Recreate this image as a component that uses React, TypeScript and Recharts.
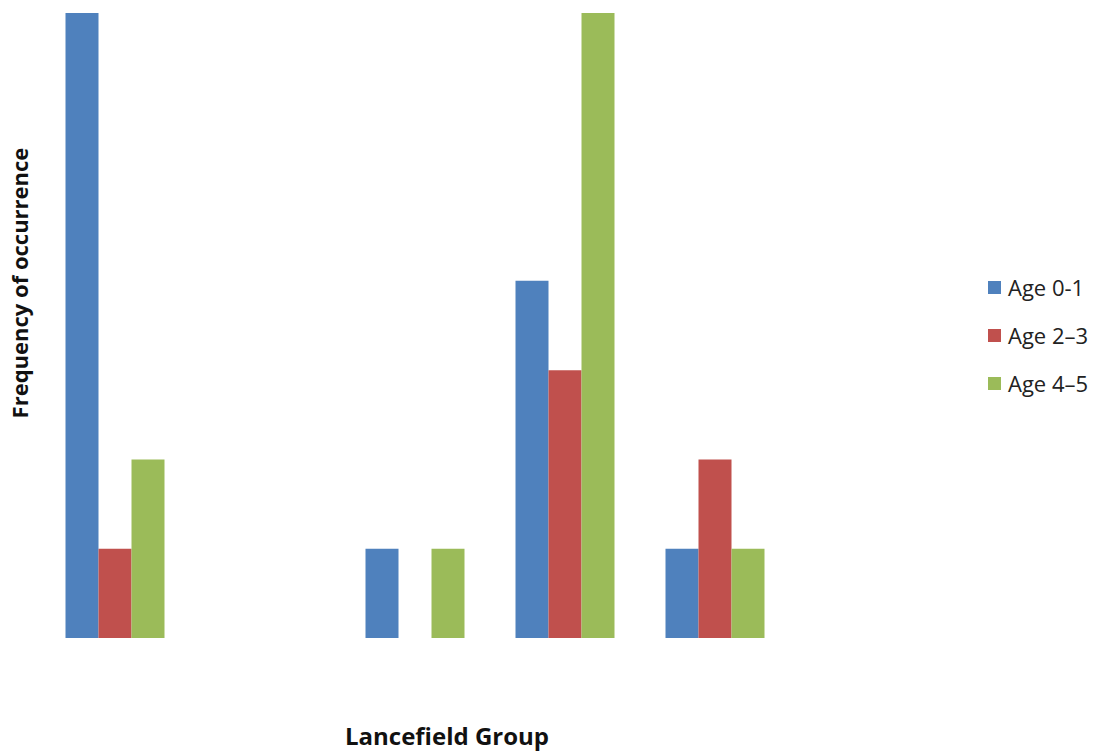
import React from 'react';
import { BarChart, Bar, XAxis, YAxis } from 'recharts';

// Lancefield groups on the category axis (tick labels are not shown)
const groups = ['A', 'B', 'C', 'F', 'G'];
const age01 = [7, 0, 1, 4, 1];
const age23 = [1, 0, 0, 3, 2];
const age45 = [2, 0, 1, 7, 1];

const seriesNames = ['Age 0-1', 'Age 2\u20133', 'Age 4\u20135'];
const seriesColors = ['#4f81bd', '#c0504d', '#9bbb59'];

const data = groups.map((g, i) => ({
  group: g,
  a01: age01[i],
  a23: age23[i],
  a45: age45[i],
}));

const FONT = '"Open Sans", "Liberation Sans", sans-serif';

function LegendBox() {
  return (
    <div
      style={{
        position: 'absolute',
        left: 988,
        top: 263,
        fontFamily: FONT,
        fontSize: 22,
        color: '#222',
      }}
    >
      {seriesNames.map((name, i) => (
        <div key={name} style={{ display: 'flex', alignItems: 'center', height: 48 }}>
          <span
            style={{
              display: 'inline-block',
              width: 13,
              height: 13,
              background: seriesColors[i],
              marginRight: 7,
            }}
          />
          <span>{name}</span>
        </div>
      ))}
    </div>
  );
}

export default function App() {
  return (
    <div style={{ position: 'absolute', left: 0, top: 0, width: 1102, height: 751, background: '#fff' }}>
      <BarChart
        width={1102}
        height={751}
        data={data}
        margin={{ top: 13, right: 312, bottom: 0, left: 0 }}
        barCategoryGap={25.5}
        barGap={0}
      >
        <XAxis
          dataKey="group"
          tick={false}
          axisLine={false}
          tickLine={false}
          height={113}
          label={{
            content: () => (
              <text
                x={447}
                y={745}
                textAnchor="middle"
                style={{ fontFamily: FONT, fontWeight: 700, fontSize: 24, fill: '#111' }}
              >
                Lancefield Group
              </text>
            ),
          }}
        />
        <YAxis
          domain={[0, 7]}
          tick={false}
          axisLine={false}
          tickLine={false}
          width={40}
          label={{
            content: () => (
              <text
                x={28}
                y={283}
                transform="rotate(-90 28 283)"
                textAnchor="middle"
                style={{ fontFamily: FONT, fontWeight: 700, fontSize: 22, fill: '#111' }}
              >
                Frequency of occurrence
              </text>
            ),
          }}
        />
        <Bar dataKey="a01" name={seriesNames[0]} fill={seriesColors[0]} isAnimationActive={false} />
        <Bar dataKey="a23" name={seriesNames[1]} fill={seriesColors[1]} isAnimationActive={false} />
        <Bar dataKey="a45" name={seriesNames[2]} fill={seriesColors[2]} isAnimationActive={false} />
      </BarChart>
      <LegendBox />
    </div>
  );
}
